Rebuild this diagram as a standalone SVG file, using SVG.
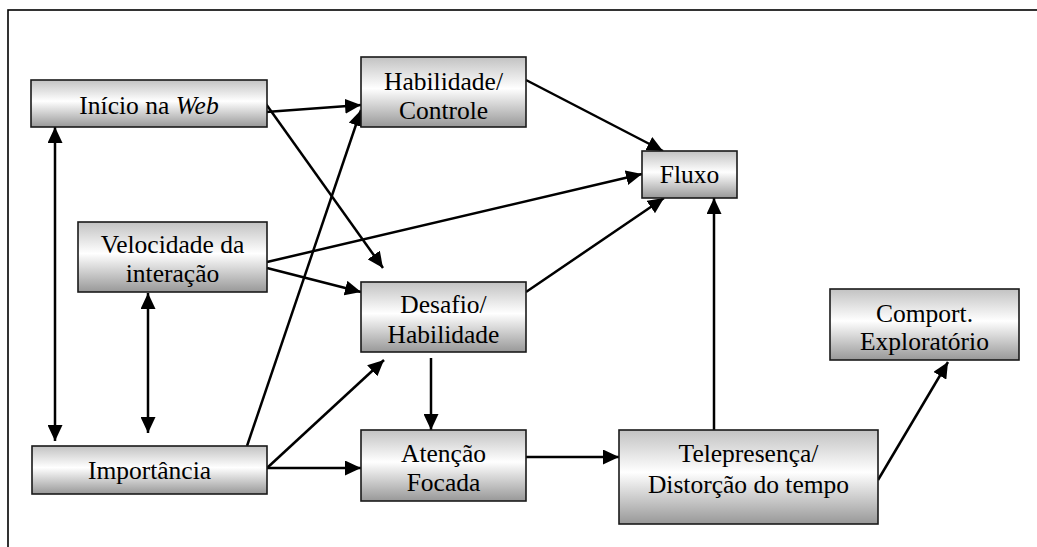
<svg xmlns="http://www.w3.org/2000/svg" width="1037" height="547" viewBox="0 0 1037 547">
<style>
.box{fill:url(#g);stroke:#1a1a1a;stroke-width:1.6}
.t{font-family:"Liberation Serif","Times New Roman",serif;font-size:25.5px;fill:#000;text-anchor:middle}
.c{fill:none;stroke:#000;stroke-width:2.5;marker-end:url(#ah)}
.d{marker-start:url(#ah)}
</style>
<defs>
<linearGradient id="g" x1="0" y1="0" x2="0" y2="1">
<stop offset="0" stop-color="#c2c2c2"/>
<stop offset="0.45" stop-color="#ffffff"/>
<stop offset="1" stop-color="#989898"/>
</linearGradient>
<marker id="ah" viewBox="0 0 16 15" refX="16" refY="7.5" markerWidth="16" markerHeight="15" markerUnits="userSpaceOnUse" orient="auto-start-reverse">
<path d="M0,0 L16,7.5 L0,15 z" fill="#000"/>
</marker>
</defs>
<rect x="8" y="10" width="1040" height="550" fill="#fff" stroke="#000" stroke-width="1.6"/>
<g id="connectors">
<path class="c d" d="M55,127 L55,441"/>
<path class="c d" d="M148,293 L148,433"/>
<path class="c" d="M266,112 L361,105"/>
<path class="c" d="M266,104 L383,268"/>
<path class="c" d="M526,80 L663,151"/>
<path class="c" d="M267,262 L642,174"/>
<path class="c" d="M267,268 L361,292"/>
<path class="c" d="M247,446 L361,110"/>
<path class="c" d="M267,468 L384,360"/>
<path class="c" d="M267,468 L361,468"/>
<path class="c" d="M431,358 L431,430"/>
<path class="c" d="M526,292 L664,198"/>
<path class="c" d="M526,457 L619,457"/>
<path class="c" d="M714,430 L714,198"/>
<path class="c" d="M878,480 L948,362"/>
</g>
<g id="inicio">
<rect class="box" x="31" y="80" width="236" height="47"/>
<text class="t" x="149" y="114">Início na <tspan font-style="italic">Web</tspan></text>
</g>
<g id="habilidade">
<rect class="box" x="361" y="57" width="165" height="70"/>
<text class="t" x="443.5" y="90">Habilidade/</text>
<text class="t" x="443.5" y="119">Controle</text>
</g>
<g id="fluxo">
<rect class="box" x="642" y="151" width="95" height="47"/>
<text class="t" x="689.5" y="183">Fluxo</text>
</g>
<g id="velocidade">
<rect class="box" x="78" y="222" width="189" height="70"/>
<text class="t" x="172.5" y="253">Velocidade da</text>
<text class="t" x="172.5" y="282">interação</text>
</g>
<g id="desafio">
<rect class="box" x="361" y="282" width="165" height="70"/>
<text class="t" x="443.5" y="313">Desafio/</text>
<text class="t" x="443.5" y="343">Habilidade</text>
</g>
<g id="comport">
<rect class="box" x="830" y="289" width="189" height="71"/>
<text class="t" x="924.5" y="322">Comport.</text>
<text class="t" x="924.5" y="350">Exploratório</text>
</g>
<g id="importancia">
<rect class="box" x="32" y="446" width="235" height="48"/>
<text class="t" x="149.5" y="479">Importância</text>
</g>
<g id="atencao">
<rect class="box" x="361" y="430" width="165" height="71"/>
<text class="t" x="443.5" y="462">Atenção</text>
<text class="t" x="443.5" y="491">Focada</text>
</g>
<g id="telepresenca">
<rect class="box" x="619" y="430" width="259" height="94"/>
<text class="t" x="748.5" y="462">Telepresença/</text>
<text class="t" x="748.5" y="493">Distorção do tempo</text>
</g>
</svg>
